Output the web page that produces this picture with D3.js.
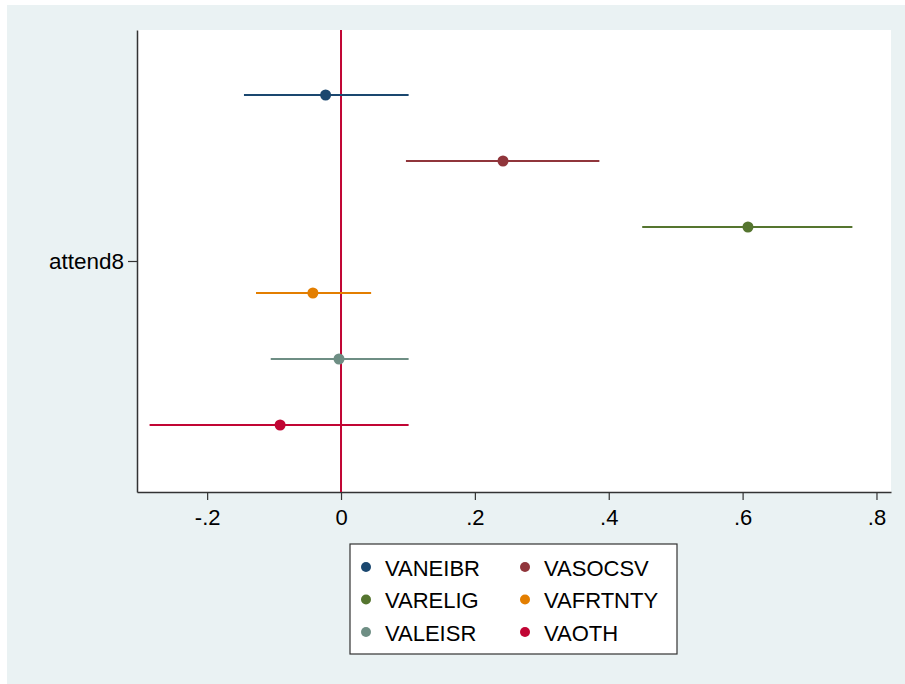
<!DOCTYPE html>
<html>
<head>
<meta charset="utf-8">
<title>Coefficient plot</title>
<script src="https://d3js.org/d3.v7.min.js"></script>
<style>
  html, body { margin: 0; padding: 0; background: #fff; }
  svg { display: block; font-family: "Liberation Sans", Arial, sans-serif; }
</style>
</head>
<body>
<div id="chart"></div>
<script>
// ---- data ----
var categories = ["attend8"];
var series = ["VANEIBR", "VASOCSV", "VARELIG", "VAFRTNTY", "VALEISR", "VAOTH"];
var coef = [-0.023, 0.242, 0.608, -0.042, -0.003, -0.091];
var ciLow = [-0.145, 0.097, 0.450, -0.127, -0.105, -0.286];
var ciHigh = [0.101, 0.386, 0.764, 0.045, 0.101, 0.101];
var xTicks = [-0.2, 0, 0.2, 0.4, 0.6, 0.8];
var colors = ["#1a476f", "#90353b", "#55752f", "#e37e00", "#6e8e84", "#c10534"];

// ---- set-up ----
var width = 905, height = 684;
var plot = {left: 137, top: 30, right: 891, bottom: 492};

var svg = d3.select("#chart").append("svg")
  .attr("width", width)
  .attr("height", height);

// outer graph region
svg.append("rect")
  .attr("x", 7).attr("y", 5)
  .attr("width", width - 7).attr("height", height - 5)
  .attr("fill", "#eaf2f3");

// plot region
svg.append("rect")
  .attr("x", plot.left).attr("y", plot.top)
  .attr("width", plot.right - plot.left).attr("height", plot.bottom - plot.top)
  .attr("fill", "#fff");

var x = d3.scaleLinear().domain([-0.3048, 0.8217]).range([plot.left, plot.right]);
var yCat = d3.scalePoint().domain(categories).range([plot.top, plot.bottom]).padding(0.5);
var yOff = d3.scalePoint().domain(series).range([-166, 164]);

// stata style labels: -.2, 0, .2
function stataFmt(v) {
  if (Math.abs(v) < 1e-9) return "0";
  return v.toFixed(1).replace("0.", ".");
}

// x axis
var xAxis = svg.append("g")
  .attr("transform", "translate(0," + plot.bottom + ")")
  .call(d3.axisBottom(x).tickValues(xTicks).tickSize(8).tickSizeOuter(0).tickPadding(9).tickFormat(stataFmt));
xAxis.select(".domain").attr("stroke", "#333").attr("stroke-width", 1.5);
xAxis.selectAll(".tick line").attr("stroke", "#333").attr("stroke-width", 1.2);
xAxis.selectAll("text").attr("font-size", 22).attr("fill", "#000")
  .attr("font-family", "Liberation Sans, Arial, sans-serif");

// y axis
var yAxis = svg.append("g")
  .attr("transform", "translate(" + plot.left + ",0)")
  .call(d3.axisLeft(yCat).tickSize(9).tickSizeOuter(0).tickPadding(4));
yAxis.select(".domain").attr("stroke", "#333").attr("stroke-width", 1.5);
yAxis.selectAll(".tick line").attr("stroke", "#333").attr("stroke-width", 1.2);
yAxis.selectAll("text").attr("font-size", 22.5).attr("fill", "#000")
  .attr("font-family", "Liberation Sans, Arial, sans-serif");

// reference line at 0
svg.append("line")
  .attr("x1", x(0)).attr("x2", x(0))
  .attr("y1", plot.top).attr("y2", plot.bottom)
  .attr("stroke", "#c10534").attr("stroke-width", 2);

// confidence intervals and points
var rows = series.map(function(s, i) {
  return {name: s, b: coef[i], lo: ciLow[i], hi: ciHigh[i], color: colors[i], cat: categories[0]};
});

var g = svg.append("g").selectAll("g.est")
  .data(rows).enter().append("g").attr("class", "est");

g.append("line")
  .attr("x1", function(d) { return x(d.lo); })
  .attr("x2", function(d) { return x(d.hi); })
  .attr("y1", function(d) { return yCat(d.cat) + yOff(d.name); })
  .attr("y2", function(d) { return yCat(d.cat) + yOff(d.name); })
  .attr("stroke", function(d) { return d.color; })
  .attr("stroke-width", 2);

g.append("circle")
  .attr("cx", function(d) { return x(d.b); })
  .attr("cy", function(d) { return yCat(d.cat) + yOff(d.name); })
  .attr("r", 5.5)
  .attr("fill", function(d) { return d.color; });

// legend
var legend = svg.append("g");
legend.append("rect")
  .attr("x", 350).attr("y", 544).attr("width", 327).attr("height", 110)
  .attr("fill", "#fff").attr("stroke", "#333").attr("stroke-width", 1.2);

var items = legend.selectAll("g.item").data(rows).enter().append("g")
  .attr("class", "item")
  .attr("transform", function(d, i) {
    return "translate(" + (366 + (i % 2) * 159) + "," + (567 + Math.floor(i / 2) * 32.5) + ")";
  });
items.append("circle").attr("r", 5).attr("fill", function(d) { return d.color; });
items.append("text")
  .attr("x", 19).attr("y", 8.5)
  .attr("font-size", 22)
  .attr("fill", "#000")
  .text(function(d) { return d.name; });
</script>
</body>
</html>
